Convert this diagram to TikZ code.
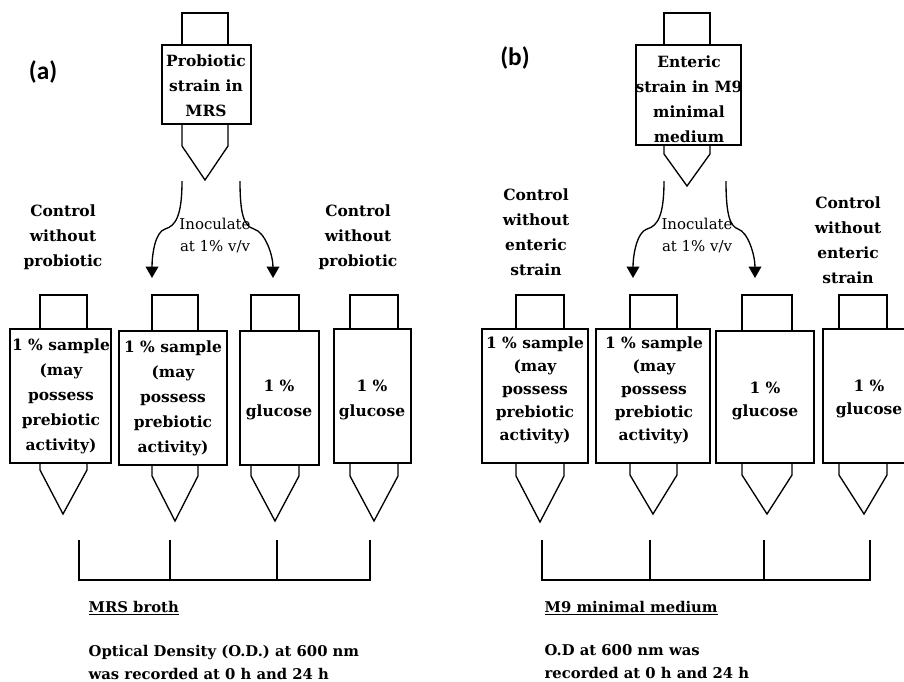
\documentclass[tikz,border=0pt]{standalone}
\usepackage{fontspec}
\setmainfont{DejaVu Serif}
\newfontfamily\panelfont{Carlito}
\usetikzlibrary{arrows.meta}

\tikzset{every picture/.style={line width=1pt}}
\tikzset{
  tubetext/.style={inner sep=0.75pt, align=center, font=\bfseries\fontsize{11.6}{18.75}\selectfont},
  tubetextb/.style={inner sep=0.75pt, align=center, font=\bfseries\fontsize{11.6}{17.25}\selectfont},
  ctrltext/.style={inner sep=0.75pt, align=center, font=\bfseries\fontsize{11.6}{18.75}\selectfont},
  inoctext/.style={inner sep=0.75pt, align=center, font=\fontsize{11.2}{16.5}\selectfont},
  notetext/.style={inner sep=0.75pt, align=left, anchor=west, font=\bfseries\fontsize{11.1}{17.25}\selectfont},
  paneltext/.style={inner sep=0.75pt, font=\panelfont\bfseries\fontsize{19}{22}\selectfont},
  inoc/.style={-{Triangle[length=8.5pt,width=9.5pt]}},
}

\begin{document}
\begin{tikzpicture}[x=0.75pt,y=0.75pt,yscale=-1,xscale=1]
\clip (0,0) rectangle (904,682);

%%%%%%%% panel (a)
% Text Node
\node (panA) at (43,72) [paneltext] {(a)};
% Shape: Rectangle
\draw (182,13) rectangle (228,45);
\draw (162,45) rectangle (251,124);
\draw (182,124) -- (182,146) -- (205,180) -- (228,146) -- (228,124);
% Text Node
\node (strainA) at (206,86) [tubetext] {Probiotic\\strain in\\MRS};

% Text Node
\node (ctrlAL) at (63,237) [ctrltext] {Control\\without\\probiotic};
\node (ctrlAR) at (358,237) [ctrltext] {Control\\without\\probiotic};
% Text Node
\node (inocA) at (215,236) [inoctext] {Inoculate\\at 1\% v/v};

% Connection
\coordinate (aL0) at (182,181);
\coordinate (aL1) at (152,278);
\coordinate (aR0) at (240,181);
\coordinate (aR1) at (273,278);
\draw [inoc] (aL0) .. controls (182,215) and (176,226) .. (165,229) .. controls (155,232) and (152,255) .. (aL1);
\draw [inoc] (aR0) .. controls (240,215) and (244,226) .. (254,229) .. controls (265,232) and (273,255) .. (aR1);

% Shape: tube 1
\draw (40,295) rectangle (87,329);
\draw (10,329) rectangle (111,463);
\draw (40,463) -- (40,470) -- (63,514) -- (87,470) -- (87,463);
\node (tubeA1) at (61,396) [tubetext] {1 \% sample\\(may\\possess\\prebiotic\\activity)};
% Shape: tube 2
\draw (152,295) rectangle (198,331);
\draw (119,331) rectangle (227,465);
\draw (152,465) -- (152,476) -- (175,521) -- (198,476) -- (198,465);
\node (tubeA2) at (173,398) [tubetext] {1 \% sample\\(may\\possess\\prebiotic\\activity)};
% Shape: tube 3
\draw (251,295) rectangle (299,331);
\draw (240,331) rectangle (319,465);
\draw (251,465) -- (251,476) -- (275,521) -- (299,476) -- (299,465);
\node (tubeA3) at (279,400) [tubetext] {1 \%\\glucose};
% Shape: tube 4
\draw (350,295) rectangle (398,329);
\draw (334,329) rectangle (411,463);
\draw (350,463) -- (350,476) -- (374,521) -- (398,476) -- (398,463);
\node (tubeA4) at (372,400) [tubetext] {1 \%\\glucose};

% Connection
\coordinate (brA1) at (79,540);
\coordinate (brA2) at (170,540);
\coordinate (brA3) at (277,540);
\coordinate (brA4) at (370,540);
\draw (brA1) -- ++(0,40) -| (brA4);
\draw (brA2) -- ++(0,40);
\draw (brA3) -- ++(0,40);

% Text Node
\node (mediumA) at (87,608) [notetext] {\underline{MRS broth}};
\node (odA) at (87,662) [notetext] {Optical Density (O.D.) at 600 nm\\was recorded at 0 h and 24 h};

%%%%%%%% panel (b)
% Text Node
\node (panB) at (515,58) [paneltext] {(b)};
% Shape: Rectangle
\draw (664,13) rectangle (710,45);
\draw (636,45) rectangle (741,145);
\draw (664,145) -- (664,154) -- (687,186) -- (710,154) -- (710,145);
% Text Node
\node (strainB) at (689,99) [tubetext] {Enteric\\strain in M9\\minimal\\medium};

% Text Node
\node (ctrlBL) at (536,232) [ctrltext] {Control\\without\\enteric\\strain};
\node (ctrlBR) at (848,240) [ctrltext] {Control\\without\\enteric\\strain};
% Text Node
\node (inocB) at (697,236) [inoctext] {Inoculate\\at 1\% v/v};

% Connection
\coordinate (bL0) at (664,181);
\coordinate (bL1) at (633,278);
\coordinate (bR0) at (726,181);
\coordinate (bR1) at (755,278);
\draw [inoc] (bL0) .. controls (664,215) and (658,226) .. (647,229) .. controls (637,232) and (633,255) .. (bL1);
\draw [inoc] (bR0) .. controls (726,215) and (730,226) .. (738,229) .. controls (748,232) and (755,255) .. (bR1);

% Shape: tube 1
\draw (516,295) rectangle (564,329);
\draw (482,329) rectangle (588,463);
\draw (516,463) -- (516,476) -- (540,522) -- (564,476) -- (564,463);
\node (tubeB1) at (535,390) [tubetextb] {1 \% sample\\(may\\possess\\prebiotic\\activity)};
% Shape: tube 2
\draw (630,295) rectangle (677,329);
\draw (596,329) rectangle (710,463);
\draw (630,463) -- (630,475) -- (653,514) -- (677,475) -- (677,463);
\node (tubeB2) at (654,390) [tubetextb] {1 \% sample\\(may\\possess\\prebiotic\\activity)};
% Shape: tube 3
\draw (742,295) rectangle (792,331);
\draw (716,331) rectangle (814,463);
\draw (742,463) -- (742,475) -- (767,514) -- (792,475) -- (792,463);
\node (tubeB3) at (765,401) [tubetextb] {1 \%\\glucose};
% Shape: tube 4
\draw (839,295) rectangle (887,329);
\draw (823,329) rectangle (908,463);
\draw (839,463) -- (839,475) -- (864,514) -- (887,475) -- (887,463);
\node (tubeB4) at (869,399) [tubetextb] {1 \%\\glucose};

% Connection
\coordinate (brB1) at (542,540);
\coordinate (brB2) at (650,540);
\coordinate (brB3) at (764,540);
\coordinate (brB4) at (870,540);
\draw (brB1) -- ++(0,40) -| (brB4);
\draw (brB2) -- ++(0,40);
\draw (brB3) -- ++(0,40);

% Text Node
\node (mediumB) at (543,608) [notetext] {\underline{M9 minimal medium}};
\node (odB) at (543,662) [notetext] {O.D at 600 nm was\\recorded at 0 h and 24 h};

\end{tikzpicture}
\end{document}
